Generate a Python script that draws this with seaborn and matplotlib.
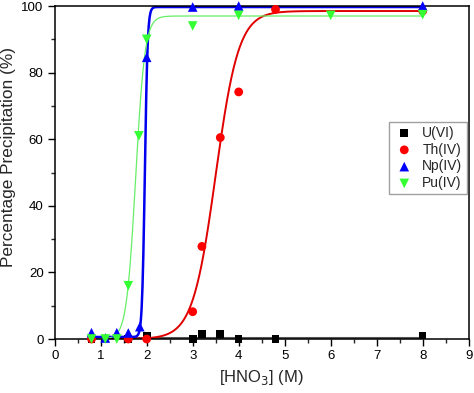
import numpy as np
import pandas as pd
import matplotlib
matplotlib.use("Agg")
from matplotlib import pyplot as plt
import seaborn as sns

# measured points
u_x = [0.8, 1.6, 2.0, 3.0, 3.2, 3.6, 4.0, 4.8, 8.0]
u_y = [0.0, 0.0, 1.0, 0.0, 1.5, 1.5, 0.0, 0.0, 1.0]
th_x = [0.8, 1.6, 2.0, 3.0, 3.2, 3.6, 4.0, 4.8, 8.0]
th_y = [0.0, 0.0, 0.0, 8.2, 27.8, 60.5, 74.2, 99.0, 98.5]
np_x = [0.8, 1.1, 1.35, 1.6, 1.85, 2.0, 3.0, 4.0, 8.0]
np_y = [1.9, 0.3, 1.9, 1.8, 3.7, 84.6, 99.7, 100.0, 100.0]
pu_x = [0.8, 1.1, 1.35, 1.6, 1.83, 2.0, 3.0, 4.0, 6.0, 8.0]
pu_y = [0.0, 0.0, 0.0, 16.0, 61.0, 90.0, 94.0, 97.2, 97.2, 97.4]

# Boltzmann fit parameters: (bottom, top, x0, dx)
u_fit = (0.4, 0.4, 3.0, 1.0)
th_fit = (0.0, 98.5, 3.5, 0.25)
np_fit = (0.6, 99.7, 1.96, 0.03)
pu_fit = (0.0, 97.0, 1.76, 0.1)

series = [
    ("U(VI)", u_x, u_y, u_fit, "black", "s", 30, "#555555", 2.2),
    ("Th(IV)", th_x, th_y, th_fit, "#ff0000", "o", 40, "#e00000", 1.4),
    ("Np(IV)", np_x, np_y, np_fit, "#0000ff", "^", 48, "#0000ee", 1.8),
    ("Pu(IV)", pu_x, pu_y, pu_fit, "#33ff33", "v", 48, "#66ee66", 0.9),
]


def boltzmann(x, p):
    a1, a2, x0, dx = p
    return a2 + (a1 - a2) / (1 + np.exp((x - x0) / dx))


sns.set_style("ticks")
plt.rcParams["font.family"] = ["Liberation Sans", "DejaVu Sans"]

fig = plt.figure(figsize=(4.74, 3.93), dpi=100)
ax = fig.add_axes([0.1154, 0.1374, 0.8734, 0.8473])

xs = np.linspace(0.8, 8.0, 800)
for name, x, y, fit, col, mk, ms, lcol, lw in series:
    sns.lineplot(x=xs, y=boltzmann(xs, fit), color=lcol, lw=lw, ax=ax, zorder=2)

for name, x, y, fit, col, mk, ms, lcol, lw in series:
    df = pd.DataFrame({"x": x, "y": y})
    sns.scatterplot(data=df, x="x", y="y", color=col, marker=mk, s=ms,
                    edgecolor="none", ax=ax, label=name, zorder=3, clip_on=False)

ax.set_xlim(0, 9)
ax.set_ylim(0, 100)
ax.set_xticks(range(0, 10))
ax.set_xticks(np.arange(0.5, 9, 1.0), minor=True)
ax.set_yticks(range(0, 101, 20))
ax.set_yticks(range(10, 100, 20), minor=True)
ax.tick_params(axis="both", which="major", direction="out", length=5, width=1,
               labelsize=9.5, colors="black", pad=3)
ax.tick_params(axis="both", which="minor", direction="out", length=3, width=1)
for s in ax.spines.values():
    s.set_linewidth(1.1)
    s.set_color("black")

ax.set_xlabel("[HNO$_3$] (M)", fontsize=12, labelpad=4)
ax.set_ylabel("Percentage Precipitation (%)", fontsize=12.4)
ax.yaxis.set_label_coords(-0.093, 0.547)

leg = ax.legend(loc="upper right", bbox_to_anchor=(0.995, 0.653), fontsize=10,
                frameon=True, fancybox=False, handletextpad=0.5,
                borderpad=0.3, labelspacing=0.2, handlelength=1.6,
                borderaxespad=0)
leg.get_frame().set_edgecolor("#888888")
leg.get_frame().set_linewidth(1.0)

fig.savefig("out.png", dpi=100)
